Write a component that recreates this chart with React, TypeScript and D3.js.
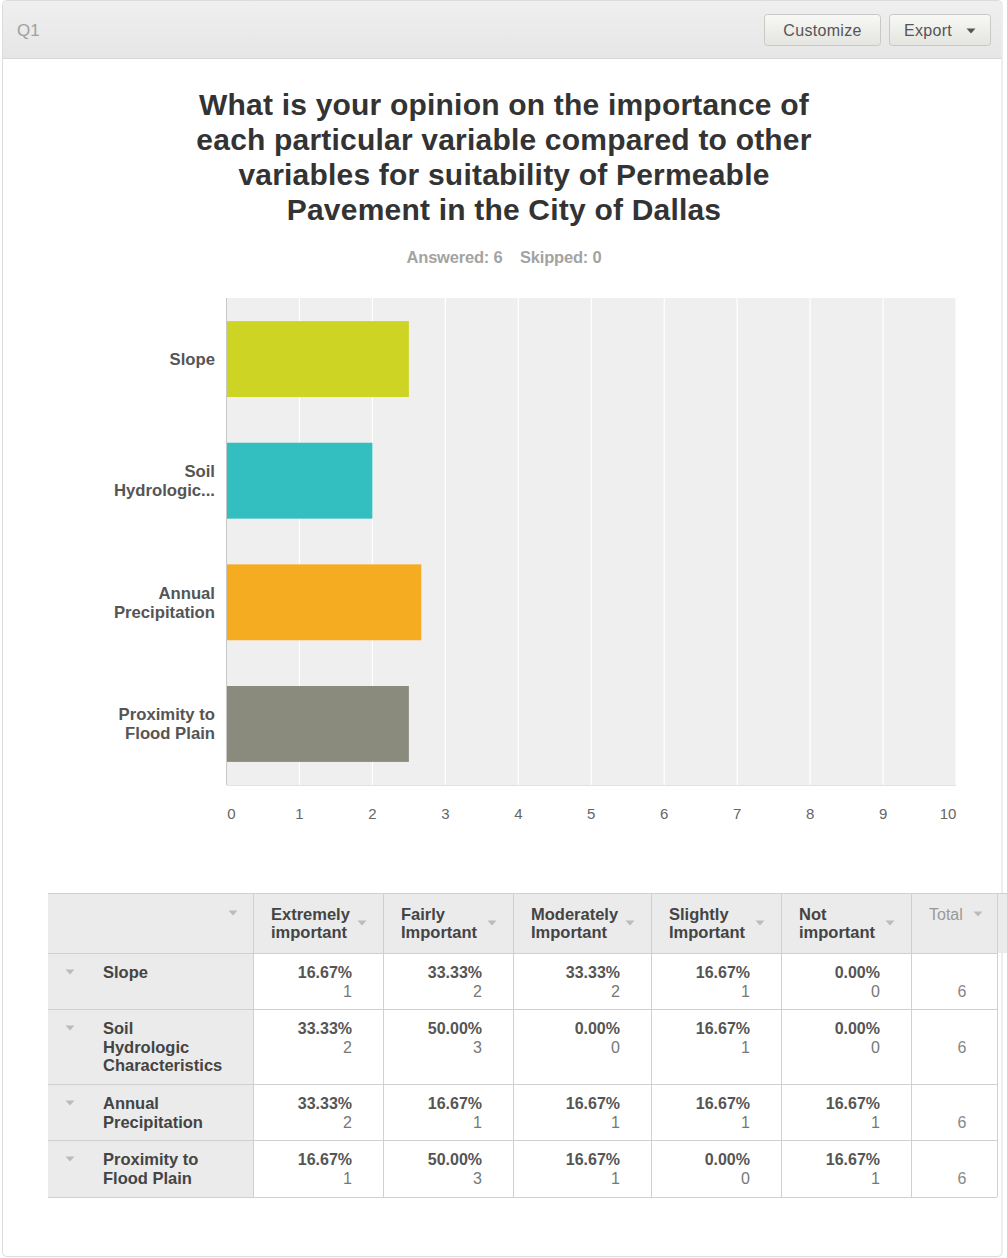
import React from "react";
import * as d3 from "d3";

const categories = ["Slope", "Soil Hydrologic Characteristics", "Annual Precipitation", "Proximity to Flood Plain"];
const axisLabels = [["Slope"], ["Soil", "Hydrologic..."], ["Annual", "Precipitation"], ["Proximity to", "Flood Plain"]];
const tableLabels = [["Slope"], ["Soil", "Hydrologic", "Characteristics"], ["Annual", "Precipitation"], ["Proximity to", "Flood Plain"]];
const averages = [2.5, 2.0, 2.67, 2.5];
const barColors = ["#cdd423", "#33bec0", "#f5ac20", "#8a8a7d"];
const xTicks = [0, 1, 2, 3, 4, 5, 6, 7, 8, 9, 10];
const columns = [["Extremely", "important"], ["Fairly", "Important"], ["Moderately", "Important"], ["Slightly", "Important"], ["Not", "important"]];
const percents = [
  ["16.67%", "33.33%", "33.33%", "16.67%", "0.00%"],
  ["33.33%", "50.00%", "0.00%", "16.67%", "0.00%"],
  ["33.33%", "16.67%", "16.67%", "16.67%", "16.67%"],
  ["16.67%", "50.00%", "16.67%", "0.00%", "16.67%"],
];
const counts = [
  [1, 2, 2, 1, 0],
  [2, 3, 0, 1, 0],
  [2, 1, 1, 1, 1],
  [1, 3, 1, 0, 1],
];
const totals = [6, 6, 6, 6];
const titleLines = [
  "What is your opinion on the importance of",
  "each particular variable compared to other",
  "variables for suitability of Permeable",
  "Pavement in the City of Dallas",
];

const FONT = "'Liberation Sans', Arial, Helvetica, sans-serif";

function Arrow({ x, y, color = "#bbb", w = 9, h = 5 }: { x: number; y: number; color?: string; w?: number; h?: number }) {
  return <path d={`M${x - w / 2},${y - h / 2}L${x + w / 2},${y - h / 2}L${x},${y + h / 2}Z`} fill={color} />;
}

export default function App() {
  const W = 1007, H = 1258;
  const plot = { left: 226.5, right: 956, top: 298, bottom: 785 };
  const x = d3.scaleLinear().domain([0, 10]).range([plot.left, plot.right]);
  const y = d3.scaleBand<string>().domain(categories).range([plot.top, plot.bottom]).paddingInner(0.376).paddingOuter(0.19);

  const colX = [48, 253, 383, 513, 651, 781, 911, 997];
  const rowY = [893, 953, 1009, 1084, 1140, 1197];

  return (
    <div style={{ position: "absolute", left: 0, top: 0, width: W, height: H, background: "#fff" }}>
      <svg width={W} height={H} style={{ display: "block", fontFamily: FONT }}>
        <defs>
          <linearGradient id="hdr" x1="0" y1="0" x2="0" y2="1">
            <stop offset="0" stopColor="#efefef" />
            <stop offset="1" stopColor="#e6e6e6" />
          </linearGradient>
          <linearGradient id="btn" x1="0" y1="0" x2="0" y2="1">
            <stop offset="0" stopColor="#f8f8f6" />
            <stop offset="1" stopColor="#e4e4e0" />
          </linearGradient>
        </defs>
        {/* card */}
        <rect x={2.5} y={0.5} width={999.5} height={1256} rx={4} fill="#fff" stroke="#dcdcdc" />
        <path d="M3,58 L3,4 Q3,1 6,1 L999,1 Q1001.5,1 1001.5,4 L1001.5,58 Z" fill="url(#hdr)" />
        <line x1={3} x2={1001.5} y1={58.5} y2={58.5} stroke="#d8d8d8" />
        <text x={17} y={36} fontSize={17} fill="#a0a0a0">Q1</text>
        <rect x={764.5} y={14.5} width={116} height={31} rx={3} fill="url(#btn)" stroke="#c8c8c4" />
        <text x={822.5} y={36} fontSize={16} fill="#555" textAnchor="middle" letterSpacing={0.3}>Customize</text>
        <rect x={889.5} y={14.5} width={101} height={31} rx={3} fill="url(#btn)" stroke="#c8c8c4" />
        <text x={904} y={36} fontSize={16} fill="#555" letterSpacing={0.3}>Export</text>
        <Arrow x={971} y={31} color="#555" w={9} h={5} />

        {/* title */}
        {titleLines.map((t, i) => (
          <text key={i} x={504} y={115 + i * 35} fontSize={30} fontWeight="bold" fill="#333" textAnchor="middle" letterSpacing={0.2}>{t}</text>
        ))}
        <text x={504} y={263} fontSize={16.5} fontWeight="bold" fill="#a3a3a3" textAnchor="middle" xmlSpace="preserve" letterSpacing={-0.2}>Answered: 6    Skipped: 0</text>

        {/* plot */}
        <rect x={plot.left} y={plot.top} width={plot.right - plot.left} height={plot.bottom - plot.top} fill="#efefef" />
        {xTicks.slice(1).map((t) => (
          <line key={t} x1={x(t)} x2={x(t)} y1={plot.top} y2={plot.bottom} stroke="#fff" strokeWidth={1.2} />
        ))}
        <line x1={plot.left} x2={plot.right} y1={plot.bottom + 0.5} y2={plot.bottom + 0.5} stroke="#e2e2e2" />
        <line x1={plot.left} x2={plot.left} y1={plot.top} y2={plot.bottom} stroke="#c8c8c8" />
        {categories.map((c, i) => (
          <rect key={c} x={x(0) + 0.5} y={y(c)} width={x(averages[i]) - x(0) - 0.5} height={y.bandwidth()} fill={barColors[i]} />
        ))}
        {categories.map((c, i) => {
          const lines = axisLabels[i];
          const cy = (y(c) as number) + y.bandwidth() / 2;
          const lh = 19;
          return lines.map((l, j) => (
            <text key={c + j} x={215} y={cy + (j - (lines.length - 1) / 2) * lh + 6} fontSize={16.7} fontWeight="bold" fill="#555" textAnchor="end">{l}</text>
          ));
        })}
        {xTicks.map((t) => {
          const px = x(t);
          const dx = t === 0 ? 5 : t === 10 ? -8 : 0;
          return (
            <text key={t} x={px + dx} y={819} fontSize={15} fill="#666" textAnchor="middle">{t}</text>
          );
        })}

        {/* table */}
        <rect x={colX[0]} y={rowY[0]} width={1007 - colX[0]} height={rowY[1] - rowY[0]} fill="#ebebeb" />
        <rect x={colX[0]} y={rowY[1]} width={colX[1] - colX[0]} height={rowY[5] - rowY[1]} fill="#ebebeb" />
        {rowY.map((ry, i) => (
          <line key={"h" + i} x1={colX[0]} x2={i === 0 ? 1007 : colX[7]} y1={ry + 0.5} y2={ry + 0.5} stroke="#d0d0d0" />
        ))}
        {colX.slice(1).map((cx, i) => (
          <line key={"v" + i} x1={cx + 0.5} x2={cx + 0.5} y1={rowY[0]} y2={rowY[5]} stroke="#d0d0d0" />
        ))}
        <Arrow x={233} y={913} />
        {columns.map((lines, i) => (
          <g key={"c" + i}>
            {lines.map((l, j) => (
              <text key={j} x={colX[i + 1] + 18} y={919.5 + j * 18.5} fontSize={16.5} fontWeight="bold" fill="#444">{l}</text>
            ))}
            <Arrow x={colX[i + 2] - 21} y={923} />
          </g>
        ))}
        <text x={929} y={919.5} fontSize={16} fill="#999">Total</text>
        <Arrow x={978} y={914} />
        {categories.map((c, r) => {
          const top = rowY[r + 1];
          return (
            <g key={"r" + r}>
              <Arrow x={70} y={top + 19} />
              {tableLabels[r].map((l, j) => (
                <text key={j} x={103} y={top + 25 + j * 18.5} fontSize={16.5} fontWeight="bold" fill="#444">{l}</text>
              ))}
              {percents[r].map((p, k) => (
                <g key={k}>
                  <text x={colX[k + 2] - 31} y={top + 25} fontSize={16} fontWeight="bold" fill="#555" textAnchor="end">{p}</text>
                  <text x={colX[k + 2] - 31} y={top + 43.5} fontSize={16} fill="#777" textAnchor="end">{counts[r][k]}</text>
                </g>
              ))}
              <text x={962} y={top + 43.5} fontSize={16} fill="#888" textAnchor="middle">{totals[r]}</text>
            </g>
          );
        })}
      </svg>
    </div>
  );
}
